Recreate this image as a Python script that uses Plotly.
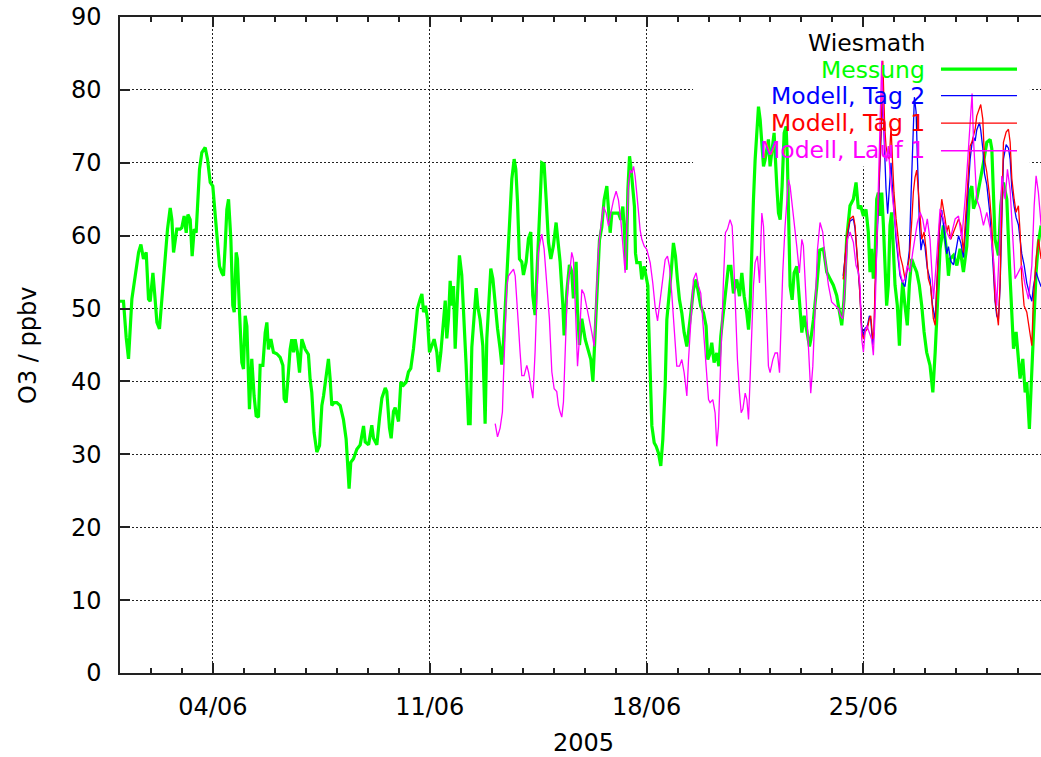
import pandas as pd
import plotly.graph_objects as go

# Ozone at Wiesmath, June 2005 — hours since 2005-06-01 00:00 and O3 in ppbv
START = pd.Timestamp("2005-06-01 00:00")

messung_h = [0, 2.7, 4.8, 6.6, 9.2, 11.8, 14.4, 16.2, 18.2, 20.3, 22.1, 23.4, 25.5, 26.8, 28.6, 30.6,
             32.4, 33.7, 35.0, 36.8, 38.9, 40.2, 41.5, 42.8, 44.0, 46.6, 47.9, 49.7, 51.3, 52.6, 54.4,
             55.9, 57.5, 59.0, 60.1, 61.6, 63.4, 66.0, 67.8, 69.9, 71.9, 73.7, 75.5, 77.1, 78.9, 80.2,
             81.5, 82.8, 84.1, 85.9, 87.4, 88.5, 90.0, 91.0, 92.6, 94.4, 95.7, 97.0, 98.3, 100.3, 102.1,
             103.9, 105.5, 107.3, 108.6, 110.7, 112.5, 113.8, 115.0, 116.9, 118.9, 121.5, 124.1, 126.2,
             127.2, 128.7, 130.5, 131.8, 133.1, 134.4, 135.7, 137.5, 139.1, 140.9, 143.5, 146.0, 147.3,
             148.6, 150.4, 152.5, 154.6, 156.4, 157.7, 159.7, 161.5, 162.8, 164.1, 165.9, 168.0, 170.6,
             173.1, 175.2, 176.2, 177.5, 178.8, 180.9, 183.5, 186.1, 188.7, 190.0, 192.6, 195.1, 196.4,
             199.0, 201.1, 202.9, 205.5, 206.7, 208.8, 210.1, 211.9, 213.2, 215.8, 217.6, 219.7, 221.7,
             223.5, 225.3, 227.4, 228.7, 230.5, 232.6, 233.9, 235.2, 236.7, 238.2, 239.8, 241.6, 243.4,
             245.5, 246.8, 248.6, 250.1, 252.0, 253.2, 254.5, 255.8, 257.1, 258.4, 259.7, 261.5, 263.0,
             264.8, 266.6, 268.2, 270.0, 271.3, 272.6, 273.9, 276.0, 277.2, 279.0, 281.1, 282.9, 284.2,
             285.5, 287.3, 288.9, 290.7, 292.5, 294.5, 295.8, 297.1, 298.9, 300.5, 302.3, 303.6, 305.4,
             306.7, 308.0, 309.5, 311.3, 312.6, 314.7, 316.5, 318.3, 319.8, 321.6, 323.5, 325.5, 326.8,
             328.6, 330.2, 332.0, 333.8, 335.8, 337.9, 339.7, 341.0, 343.1, 344.1, 346.2, 348.2, 350.0,
             351.3, 353.4, 354.4, 356.0, 357.8, 360.4, 363.0, 364.8, 366.4, 367.4, 369.5, 371.5, 373.3,
             375.1, 377.2, 378.5, 379.8, 381.1, 383.7, 386.2, 388.0, 389.6, 390.9, 392.2, 393.5, 394.8,
             395.8, 397.3, 398.6, 399.4, 400.4, 403.0, 404.3, 406.1, 407.7, 409.0, 409.7, 410.8, 412.1,
             413.9, 415.4, 417.2, 419.0, 420.6, 422.4, 423.7, 425.2, 427.0, 428.8, 430.4, 431.9, 433.5,
             435.3, 437.1, 439.2, 440.5, 442.3, 444.3, 446.4, 448.2, 450.0, 452.1, 454.1, 455.4, 457.2,
             458.5, 460.3, 462.4, 464.0, 465.5, 467.6, 469.6, 471.4, 473.3, 475.3, 477.9, 480.0, 481.8,
             483.6, 485.6, 487.0, 488.2, 489.5, 490.8, 492.1, 493.4, 494.7, 496.0, 497.3, 498.6, 499.8,
             501.1, 502.4, 503.7, 505.0, 506.8, 508.9, 510.2, 511.5, 513.0, 514.6, 516.1, 517.1, 518.2,
             519.2, 520.8, 522.3, 524.4, 526.4, 528.3, 530.1, 532.1, 534.2, 535.2, 537.3, 539.9, 542.2,
             545.0, 547.6, 550.1, 552.7, 555.3, 557.4, 559.2, 561.0, 563.0, 565.6, 568.2, 570.3, 572.1,
             573.9, 576.0, 578.0, 579.8, 581.1, 582.4, 583.7, 585.0, 586.3, 587.6, 588.9, 590.2, 591.5,
             592.7, 594.0, 595.3, 596.6, 597.9, 599.2, 600.5, 602.3, 603.9, 604.9, 606.4, 608.2, 610.0,
             611.6, 613.4, 615.2, 617.3, 619.3, 621.2, 623.0, 625.0, 627.6, 629.8, 631.6, 632.9, 635.4,
             638.0, 640.6, 641.9, 643.2, 645.8, 648.4, 650.9, 653.5, 656.1, 658.2, 660.0, 661.3, 663.8,
             666.4, 669.0, 671.6, 674.2, 675.5, 676.8, 678.0, 680.6, 682.4, 684.5, 687.1, 689.2, 691.0,
             692.3, 694.3, 696.1, 697.4, 699.5, 701.3, 702.6, 704.6, 705.9, 707.7, 709.8, 711.6, 713.7]
messung_v = [51.0, 51.0, 46.0, 43.1, 51.3, 54.9, 57.7, 58.8, 56.8, 57.7, 51.3, 51.0, 54.9, 52.2, 48.1, 47.2,
             51.3, 54.0, 57.7, 60.9, 63.8, 62.2, 57.7, 59.5, 60.9, 60.9, 61.1, 62.7, 60.4, 62.9, 62.2,
             57.2, 60.9, 60.4, 65.0, 69.1, 71.4, 72.1, 70.5, 67.3, 66.8, 62.7, 60.0, 55.8, 54.9, 54.5,
             58.6, 63.6, 65.0, 59.5, 50.4, 49.5, 57.7, 56.8, 49.5, 42.6, 41.7, 49.0, 47.6, 36.2, 43.1,
             38.0, 35.3, 35.1, 42.2, 42.2, 46.7, 48.1, 44.4, 45.8, 44.0, 43.8, 43.3, 42.2,
             37.6, 37.1, 41.2, 44.4, 45.8, 44.0, 45.8, 44.0, 41.2, 45.8, 44.4, 43.7, 40.3,
             38.5, 33.0, 30.3, 31.2, 36.7, 38.0, 41.2, 43.1, 40.4, 36.7, 37.1, 37.1, 36.7,
             34.8, 32.1, 29.4, 25.3, 28.9, 29.4, 30.7, 31.3, 33.9, 31.7, 31.3, 34.0, 32.2,
             31.3, 35.0, 37.7, 39.1, 38.6, 33.6, 32.2, 35.9, 36.4, 34.5, 39.9, 39.5, 39.9,
             41.3, 41.8, 44.5, 46.8, 50.0, 51.3, 52.0, 49.5, 50.4, 48.6, 44.0, 44.9, 45.8,
             44.0, 41.3, 44.0, 47.7, 51.1, 45.9, 48.6, 53.8, 50.4, 53.1, 44.5, 51.8, 57.3,
             54.6, 48.6, 42.2, 34.2, 34.2, 44.7, 47.5, 52.8, 50.3, 48.5, 44.9, 34.2, 45.9,
             50.5, 55.5, 54.1, 50.5, 47.3, 44.5, 42.3, 45.4, 51.8, 58.2, 63.7, 67.8, 70.5,
             69.1, 64.6, 56.8, 56.4, 54.6, 56.4, 59.6, 60.5, 51.8, 49.1, 55.9, 64.6, 70.0,
             69.8, 65.0, 59.1, 56.8, 58.6, 61.8, 58.6, 56.4, 50.5, 46.3, 52.3, 56.0, 55.1,
             51.4, 56.4, 50.0, 45.0, 48.6, 45.8, 44.0, 43.0, 40.0, 43.5, 53.0, 59.4, 61.2,
             64.9, 66.8, 64.0, 60.4, 63.1, 63.1, 63.1, 62.2, 64.0, 60.4, 55.3, 66.3, 70.9,
             69.5, 66.8, 64.0, 57.6, 56.3, 56.3, 54.0, 55.8, 54.0, 53.1, 47.6, 41.2, 33.9,
             31.6, 31.1, 30.2, 28.4, 32.1, 39.4, 48.5, 51.2, 54.9, 59.0, 57.2, 54.0, 51.2,
             49.4, 46.7, 44.8, 47.1, 49.4, 52.6, 54.0, 52.1, 50.3, 49.4, 47.6, 43.0, 43.9,
             45.3, 42.6, 43.9, 42.1, 46.2, 49.9, 53.1, 55.8, 55.8, 52.1, 54.0, 51.7, 54.9,
             51.7, 49.4, 47.1, 50.3, 58.5, 64.9, 70.4, 75.0, 77.7, 75.9, 71.8, 69.5, 70.4,
             71.8, 73.2, 69.5, 71.8, 74.1, 66.8, 63.1, 62.2, 66.8, 74.1, 75.0, 70.4, 60.4,
             53.1, 51.2, 54.9, 55.8, 51.2, 46.7, 49.0, 46.7, 44.8, 45.7, 48.5, 53.1, 58.0,
             58.2, 55.0, 54.1, 53.2, 51.8, 49.5, 47.7, 51.3, 59.5, 64.1, 65.0, 67.3, 63.7,
             64.1, 62.7, 63.6, 60.5, 55.0, 58.2, 54.1, 56.8, 65.0, 65.9, 62.7, 65.9, 61.4,
             55.9, 50.4, 53.2, 61.4, 63.2, 56.8, 53.2, 50.4, 44.9, 49.5, 53.6, 50.4, 47.7,
             53.2, 56.8, 55.9, 55.0, 53.2, 50.4, 46.8, 44.0, 42.2, 38.5, 44.0, 49.0, 58.2,
             61.4, 57.7, 54.5, 56.8, 57.3, 55.9, 58.2, 55.0, 58.6, 65.9, 66.8, 63.7, 65.0,
             67.3, 70.0, 72.8, 73.2, 71.9, 65.0, 59.5, 57.3, 64.1, 67.3, 65.0, 55.9, 49.0,
             44.5, 46.8, 42.6, 40.4, 43.1, 38.5, 39.9, 33.5, 39.0, 45.8, 55.0, 59.1, 61.4]

tag2_h = [560.3, 561.8, 563.6, 565.6, 568.2, 569.5, 570.8, 572.9, 574.7, 576.0, 577.3, 579.0, 580.6,
          581.7, 583.2, 584.2, 585.0, 586.3, 587.6, 588.9, 590.2, 591.0, 591.8, 592.5, 593.5, 594.8,
          596.1, 597.4, 598.7, 599.7, 601.3, 603.1, 604.4, 606.4, 608.2, 610.0, 611.6, 613.0, 614.2,
          615.5, 616.8, 618.0, 619.3, 620.6, 622.0, 623.7, 625.5, 627.6, 629.5, 631.6, 632.9, 634.9,
          636.7, 638.0, 639.3, 640.6, 641.9, 643.7, 645.8, 647.8, 649.7, 651.5, 653.5, 655.6, 657.4,
          658.7, 660.0, 661.3, 662.6, 663.8, 665.9, 666.9, 668.5, 669.8, 671.6, 673.7, 675.5, 676.8,
          678.0, 679.3, 680.6, 681.9, 683.2, 684.5, 686.6, 688.4, 689.7, 691.0, 692.8, 694.3, 696.1,
          697.4, 698.7, 700.5, 702.6, 704.7, 706.5, 707.7, 709.8, 711.6, 713.7]
tag2_v = [54.5, 57.5, 60.0, 62.0, 62.3, 61.0, 58.0, 53.0, 47.5, 46.3, 47.3, 47.5, 49.0,
          48.5, 45.0, 46.5, 52.0, 58.5, 64.5, 70.0, 76.0, 78.5, 74.0, 70.0, 66.5, 63.0,
          67.0, 70.0, 66.0, 63.0, 59.5, 56.5, 54.5, 53.5, 53.0, 55.5, 58.0, 66.0, 74.0,
          79.0, 77.0, 70.0, 62.0, 58.0, 59.5, 58.5, 55.5, 54.0, 50.5, 48.5, 53.5, 60.5,
          63.5, 61.5, 59.0, 57.5, 58.5, 56.5, 56.0, 58.0, 60.0, 59.0, 57.0, 62.0, 67.5,
          70.5, 72.5, 73.5, 73.0, 74.5, 75.5, 74.5, 72.0, 68.5, 67.0, 63.5, 59.0, 55.0,
          51.0, 49.0, 48.5, 53.0, 63.0, 70.5, 72.5, 72.0, 70.5, 66.5, 64.0, 62.5, 61.5,
          59.0, 57.5, 56.0, 53.5, 52.0, 51.0, 53.0, 55.0, 54.0, 53.0]

tag1_h = [560.3, 561.8, 563.6, 565.6, 568.2, 569.5, 570.8, 572.9, 574.7, 576.0, 577.3, 579.0, 580.6,
          581.7, 583.2, 584.2, 585.0, 586.3, 587.6, 588.9, 590.2, 591.0, 591.8, 592.5, 593.5, 594.8,
          596.1, 597.4, 598.7, 599.7, 601.3, 603.1, 604.4, 606.4, 608.2, 610.0, 611.6, 613.4, 614.7,
          616.0, 617.3, 618.6, 619.9, 621.2, 623.0, 624.5, 626.3, 628.1, 630.2, 631.6, 632.9, 634.9,
          636.7, 638.0, 639.3, 640.6, 641.9, 643.7, 645.8, 647.8, 649.7, 651.5, 653.5, 655.6, 657.4,
          658.7, 660.0, 661.3, 662.6, 663.8, 665.9, 666.9, 668.5, 669.8, 671.6, 673.7, 675.5, 676.8,
          678.0, 679.3, 680.6, 681.9, 683.2, 684.5, 686.6, 688.4, 689.7, 691.0, 692.8, 694.3, 696.1,
          697.4, 698.7, 700.5, 702.6, 704.7, 706.5, 707.7, 709.8, 711.6, 713.7]
tag1_v = [54.0, 57.0, 60.5, 62.3, 62.7, 61.4, 58.6, 53.2, 46.8, 45.8, 46.8, 47.2, 48.6,
          49.0, 45.8, 46.8, 53.2, 59.5, 65.9, 70.5, 77.0, 84.0, 78.0, 75.0, 72.3, 71.0,
          70.5, 75.0, 69.6, 65.9, 62.3, 59.1, 57.3, 55.9, 54.1, 55.4, 57.0, 61.8, 66.0,
          68.0, 69.0, 66.0, 63.2, 59.5, 60.5, 58.2, 54.1, 53.0, 48.6, 47.7, 53.2, 61.4,
          65.0, 63.7, 62.3, 60.5, 61.4, 59.5, 60.5, 61.4, 62.3, 61.4, 57.7, 63.7, 69.6,
          72.3, 72.8, 73.7, 74.6, 76.4, 77.4, 78.0, 76.0, 70.5, 68.7, 65.5, 61.4, 55.9,
          51.3, 49.5, 47.7, 53.6, 65.0, 72.8, 74.2, 74.6, 72.8, 67.8, 65.0, 63.2, 64.1,
          60.5, 54.1, 50.4, 49.5, 46.8, 44.9, 51.3, 56.8, 59.5, 56.8]

lauf1_h = [290.7, 292.5, 294.5, 296.3, 297.1, 298.4, 299.7, 301.0, 302.8, 304.9, 306.2, 307.4, 308.7,
           310.0, 311.3, 313.1, 315.2, 316.5, 318.3, 319.9, 321.6, 323.0, 324.2, 325.5, 326.8, 328.6,
           330.7, 332.7, 334.6, 336.4, 338.4, 339.7, 341.0, 342.3, 343.6, 344.9, 346.2, 347.5, 348.8,
           350.0, 351.3, 353.1, 354.5, 356.0, 357.8, 359.6, 361.7, 363.8, 365.6, 367.4, 369.5, 370.7,
           372.6, 374.6, 376.7, 378.5, 380.3, 382.4, 384.4, 386.2, 388.0, 389.6, 391.4, 392.7, 394.0,
           395.3, 396.6, 397.9, 399.1, 400.4, 401.7, 403.0, 404.3, 406.1, 408.2, 410.8, 412.8, 414.6,
           416.5, 418.5, 420.6, 422.4, 424.2, 425.7, 427.5, 429.3, 431.4, 433.5, 435.3, 437.1, 439.2,
           440.5, 442.3, 444.3, 446.4, 448.2, 450.0, 452.0, 454.1, 456.0, 457.2, 459.3, 461.1, 462.4,
           463.7, 465.0, 466.3, 467.6, 469.1, 470.7, 472.7, 474.3, 475.3, 476.6, 478.4, 480.0, 481.3,
           482.6, 484.4, 485.7, 487.0, 488.2, 489.5, 490.8, 492.1, 493.9, 495.5, 497.3, 498.6, 499.8,
           501.1, 502.4, 503.7, 505.8, 507.6, 509.4, 511.0, 512.0, 513.5, 515.3, 516.6, 517.9, 519.2,
           520.5, 521.8, 524.4, 526.4, 528.3, 529.5, 531.6, 533.4, 535.2, 536.8, 538.6, 540.4, 542.4,
           544.5, 546.3, 548.9, 551.4, 554.0, 556.6, 558.4, 560.0, 561.8, 563.6, 565.6, 568.2, 570.3,
           572.1, 573.4, 574.7, 576.0, 577.3, 578.6, 580.6, 582.4, 583.7, 585.0, 586.3, 587.6, 588.9,
           590.2, 591.5, 592.7, 594.0, 595.3, 596.6, 598.7, 600.5, 602.3, 604.4, 606.4, 608.2, 610.0,
           612.1, 614.2, 616.0, 617.8, 619.9, 621.9, 623.7, 625.5, 627.6, 630.3, 632.9, 635.4, 638.0,
           640.6, 643.2, 647.1, 649.7, 652.2, 654.8, 657.4, 659.2, 660.2, 661.3, 663.8, 666.4, 669.0,
           671.6, 674.2, 676.8, 679.3, 681.9, 683.2, 685.8, 687.6, 689.7, 691.7, 693.5, 696.1, 698.7,
           701.3, 703.9, 706.5, 708.3, 709.8, 711.6, 713.7]
lauf1_v = [34.2, 32.4, 33.6, 35.8, 40.4, 48.6, 53.1, 54.5, 55.0, 55.4, 54.5, 50.4, 47.7,
           44.0, 40.8, 40.8, 42.2, 41.3, 39.5, 37.7, 44.0, 53.1, 57.7, 59.1, 60.2, 58.2,
           53.1, 48.6, 41.3, 39.0, 38.6, 36.7, 35.8, 35.1, 37.2, 44.0, 50.4, 54.1, 55.5,
           57.7, 56.8, 48.9, 42.1, 46.0, 52.6, 52.0, 50.3, 48.5, 46.7, 44.8, 54.0, 58.1,
           61.3, 64.0, 63.1, 61.3, 63.1, 64.9, 66.1, 64.9, 62.2, 59.0, 54.9, 61.3, 67.2,
           69.0, 68.6, 69.5, 68.2, 65.8, 63.1, 60.8, 59.5, 58.6, 58.1, 56.3, 53.5, 50.3,
           48.3, 51.2, 54.9, 56.7, 57.2, 55.8, 52.1, 47.6, 42.1, 42.1, 43.0, 41.2, 38.0,
           43.0, 48.9, 54.0, 54.9, 53.1, 52.1, 47.1, 42.1, 37.5, 37.1, 37.5, 35.7, 31.1,
           33.8, 41.2, 46.7, 54.0, 60.4, 60.9, 62.2, 61.3, 57.6, 51.2, 43.0, 38.4, 35.7,
           36.2, 38.4, 37.5, 34.8, 40.3, 46.7, 53.1, 56.3, 57.2, 53.5, 63.1, 61.3, 54.9,
           47.6, 42.1, 41.2, 43.0, 43.9, 43.9, 41.2, 47.6, 54.9, 61.3, 64.9, 67.7, 66.8,
           64.9, 62.6, 58.5, 54.9, 59.5, 58.6, 51.2, 43.0, 38.4, 42.1, 51.2, 58.1, 61.8,
           60.5, 56.8, 53.2, 50.9, 50.4, 50.0, 49.0, 48.6, 53.2, 59.5, 60.5, 59.1, 55.9,
           55.0, 53.2, 45.8, 44.0, 46.8, 47.7, 46.8, 45.8, 43.6, 49.0, 58.2, 67.3, 73.2,
           84.0, 76.4, 71.9, 70.2, 72.3, 68.7, 65.0, 61.4, 57.7, 55.0, 53.6, 54.1, 55.9,
           55.0, 57.7, 59.5, 61.8, 63.2, 62.3, 60.5, 62.3, 59.5, 51.3, 57.3, 63.7, 62.3,
           60.5, 59.5, 62.3, 62.7, 59.5, 65.0, 71.9, 76.9, 79.5, 73.2, 65.0, 63.7, 61.4,
           63.2, 61.0, 56.8, 50.4, 60.5, 68.2, 65.0, 69.1, 66.3, 59.5, 54.1, 55.0, 55.9,
           53.2, 51.3, 55.9, 64.1, 68.2, 65.9, 61.4]

x_end_hours = 713.6
y_range = [0, 90]
y_ticks = list(range(0, 91, 10))

station = "Wiesmath"
series_names = ["Messung", "Modell, Tag 2", "Modell, Tag 1", "Modell, Lauf 1"]
series_colors = ["#00ff00", "#0000ff", "#ff0000", "#ff00ff"]
series_widths = [3.2, 1.3, 1.3, 1.3]


def to_time(hours):
    return [START + pd.Timedelta(hours=h) for h in hours]


FONT = "DejaVu Sans"
FS = 24
FS_KEY = 23.5

fig = go.Figure()
for (hh, vv), name, col, w in zip(
        [(messung_h, messung_v), (tag2_h, tag2_v), (tag1_h, tag1_v), (lauf1_h, lauf1_v)],
        series_names, series_colors, series_widths):
    fig.add_trace(go.Scatter(x=to_time(hh), y=vv, mode="lines", name=name,
                             line=dict(color=col, width=w), showlegend=False))

# key box: blanks the grid behind the key (above grid, below traces)
fig.add_shape(type="rect", xref="x", yref="y", layer="between",
              x0=START + pd.Timedelta(hours=444), x1=START + pd.Timedelta(hours=705),
              y0=69.5, y1=90, fillcolor="white", line_width=0)

# key entries: text right-aligned, a line sample to its right
key_text_x = 0.8765
sample_h0, sample_h1 = 636.1, 695.0
key_rows_paper = [0.9195, 0.879, 0.838, 0.797]
key_rows_y = [82.85, 79.2, 75.45, 71.65]
fig.add_annotation(text=station, xref="paper", yref="paper", x=key_text_x, y=0.961,
                   xanchor="right", yanchor="middle", showarrow=False,
                   font=dict(family=FONT, size=FS_KEY, color="black"))
for name, col, w, yp, yk in zip(series_names, series_colors, series_widths,
                                key_rows_paper, key_rows_y):
    fig.add_annotation(text=name, xref="paper", yref="paper", x=key_text_x, y=yp,
                       xanchor="right", yanchor="middle", showarrow=False,
                       font=dict(family=FONT, size=FS_KEY, color=col))
    fig.add_shape(type="line", xref="x", yref="y", layer="above",
                  x0=START + pd.Timedelta(hours=sample_h0),
                  x1=START + pd.Timedelta(hours=sample_h1),
                  y0=yk, y1=yk, line=dict(color=col, width=w))

# axis titles
fig.add_annotation(text="2005", xref="paper", yref="paper", x=0.503, y=-0.1067,
                   xanchor="center", yanchor="middle", showarrow=False,
                   font=dict(family=FONT, size=FS, color="black"))
fig.add_annotation(text="O3 / ppbv", xref="paper", yref="paper", x=-0.0999, y=0.5,
                   xanchor="center", yanchor="middle", textangle=-90, showarrow=False,
                   font=dict(family=FONT, size=FS, color="black"))

grid = dict(showgrid=True, gridcolor="#222222", gridwidth=1, griddash="2px,2px")

fig.update_xaxes(
    type="date", range=[START, START + pd.Timedelta(hours=x_end_hours)],
    tick0="2005-06-04", dtick=7 * 86400000, tickformat="%d/%m",
    ticks="inside", ticklen=10, tickwidth=1.5, tickcolor="#222222",
    minor=dict(dtick=86400000, tick0="2005-06-01", ticks="inside", ticklen=5,
               tickwidth=1.5, tickcolor="#222222", showgrid=False),
    showline=True, linecolor="#222222", linewidth=1.5, mirror="allticks",
    tickfont=dict(family=FONT, size=FS, color="black"), ticklabelstandoff=11,
    zeroline=False, **grid)
fig.update_yaxes(
    range=y_range, tickvals=y_ticks, ticks="inside", ticklen=10, tickwidth=1.5,
    tickcolor="#222222", showline=True, linecolor="#222222", linewidth=1.5, mirror=False,
    tickfont=dict(family=FONT, size=FS, color="black"), ticklabelstandoff=12,
    zeroline=False, **grid)

fig.update_layout(
    width=1041, height=757,
    margin=dict(l=120, r=0, t=17, b=84),
    paper_bgcolor="white", plot_bgcolor="white",
    showlegend=False,
)

fig.write_html("out.html")
